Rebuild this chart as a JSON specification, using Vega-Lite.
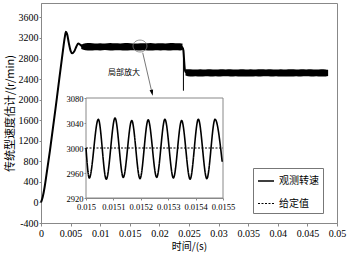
{
  "$schema": "https://vega.github.io/schema/vega-lite/v6.json",
  "width": 296,
  "height": 220,
  "autosize": "none",
  "padding": {"left": 41, "top": 3, "right": 14, "bottom": 32},
  "background": "white",
  "config": {
    "view": {"stroke": "#888888", "strokeWidth": 1},
    "axis": {
      "domainColor": "#888888",
      "tickColor": "#888888",
      "labelColor": "#000000",
      "labelFont": "Liberation Serif",
      "labelOverlap": false,
      "labelFlush": false,
      "labelBound": false,
      "titleFont": "Noto Sans CJK SC",
      "titleFontWeight": "normal",
      "titleColor": "#000000",
      "grid": false
    },
    "legend": {
      "orient": "none",
      "legendX": 212,
      "legendY": 165,
      "strokeColor": "#777777",
      "fillColor": "white",
      "padding": 4,
      "symbolType": "stroke",
      "symbolSize": 256,
      "symbolStrokeColor": "#000000",
      "labelFont": "Noto Sans CJK SC",
      "labelFontSize": 10,
      "labelColor": "#000000",
      "rowPadding": 9,
      "labelOffset": 4
    }
  },
  "datasets": {
    "band": [
      {"t": 0.0068, "v": 2985, "v2": 3070, "seg": "a"},
      {"t": 0.0075, "v": 2960, "v2": 3095, "seg": "a"},
      {"t": 0.0083, "v": 2955, "v2": 3100, "seg": "a"},
      {"t": 0.0091, "v": 2962, "v2": 3092, "seg": "a"},
      {"t": 0.0100, "v": 2958, "v2": 3098, "seg": "a"},
      {"t": 0.0108, "v": 2965, "v2": 3090, "seg": "a"},
      {"t": 0.0117, "v": 2955, "v2": 3102, "seg": "a"},
      {"t": 0.0125, "v": 2960, "v2": 3095, "seg": "a"},
      {"t": 0.0134, "v": 2962, "v2": 3093, "seg": "a"},
      {"t": 0.0142, "v": 2956, "v2": 3100, "seg": "a"},
      {"t": 0.0151, "v": 2960, "v2": 3096, "seg": "a"},
      {"t": 0.0159, "v": 2963, "v2": 3092, "seg": "a"},
      {"t": 0.0168, "v": 2957, "v2": 3099, "seg": "a"},
      {"t": 0.0176, "v": 2960, "v2": 3095, "seg": "a"},
      {"t": 0.0185, "v": 2955, "v2": 3100, "seg": "a"},
      {"t": 0.0193, "v": 2962, "v2": 3094, "seg": "a"},
      {"t": 0.0202, "v": 2958, "v2": 3097, "seg": "a"},
      {"t": 0.0210, "v": 2961, "v2": 3093, "seg": "a"},
      {"t": 0.0219, "v": 2956, "v2": 3100, "seg": "a"},
      {"t": 0.0227, "v": 2960, "v2": 3096, "seg": "a"},
      {"t": 0.0235, "v": 2958, "v2": 3098, "seg": "a"},
      {"t": 0.0239, "v": 2965, "v2": 3090, "seg": "a"},
      {"t": 0.0244, "v": 2470, "v2": 2590, "seg": "b"},
      {"t": 0.0252, "v": 2450, "v2": 2590, "seg": "b"},
      {"t": 0.0261, "v": 2455, "v2": 2585, "seg": "b"},
      {"t": 0.0269, "v": 2448, "v2": 2592, "seg": "b"},
      {"t": 0.0278, "v": 2454, "v2": 2586, "seg": "b"},
      {"t": 0.0286, "v": 2450, "v2": 2590, "seg": "b"},
      {"t": 0.0295, "v": 2456, "v2": 2584, "seg": "b"},
      {"t": 0.0303, "v": 2449, "v2": 2591, "seg": "b"},
      {"t": 0.0312, "v": 2453, "v2": 2588, "seg": "b"},
      {"t": 0.0320, "v": 2450, "v2": 2592, "seg": "b"},
      {"t": 0.0329, "v": 2455, "v2": 2585, "seg": "b"},
      {"t": 0.0337, "v": 2448, "v2": 2590, "seg": "b"},
      {"t": 0.0346, "v": 2452, "v2": 2587, "seg": "b"},
      {"t": 0.0354, "v": 2450, "v2": 2593, "seg": "b"},
      {"t": 0.0363, "v": 2456, "v2": 2586, "seg": "b"},
      {"t": 0.0371, "v": 2449, "v2": 2590, "seg": "b"},
      {"t": 0.0380, "v": 2453, "v2": 2588, "seg": "b"},
      {"t": 0.0388, "v": 2450, "v2": 2591, "seg": "b"},
      {"t": 0.0397, "v": 2455, "v2": 2585, "seg": "b"},
      {"t": 0.0405, "v": 2448, "v2": 2592, "seg": "b"},
      {"t": 0.0414, "v": 2452, "v2": 2587, "seg": "b"},
      {"t": 0.0422, "v": 2450, "v2": 2590, "seg": "b"},
      {"t": 0.0431, "v": 2456, "v2": 2586, "seg": "b"},
      {"t": 0.0439, "v": 2449, "v2": 2592, "seg": "b"},
      {"t": 0.0448, "v": 2453, "v2": 2588, "seg": "b"},
      {"t": 0.0456, "v": 2450, "v2": 2591, "seg": "b"},
      {"t": 0.0465, "v": 2455, "v2": 2585, "seg": "b"},
      {"t": 0.0473, "v": 2449, "v2": 2590, "seg": "b"},
      {"t": 0.0481, "v": 2452, "v2": 2588, "seg": "b"},
      {"t": 0.0485, "v": 2460, "v2": 2580, "seg": "b"}
    ],
    "main": [
      {"t": 0, "v": 0, "seg": "a"},
      {"t": 0.0003, "v": 110, "seg": "a"},
      {"t": 0.0006, "v": 290, "seg": "a"},
      {"t": 0.0009, "v": 520, "seg": "a"},
      {"t": 0.0015, "v": 1000, "seg": "a"},
      {"t": 0.0027, "v": 2050, "seg": "a"},
      {"t": 0.0037, "v": 2950, "seg": "a"},
      {"t": 0.0040, "v": 3200, "seg": "a"},
      {"t": 0.0042, "v": 3320, "seg": "a"},
      {"t": 0.0044, "v": 3280, "seg": "a"},
      {"t": 0.0047, "v": 3100, "seg": "a"},
      {"t": 0.0050, "v": 2950, "seg": "a"},
      {"t": 0.0053, "v": 2900, "seg": "a"},
      {"t": 0.0056, "v": 2935, "seg": "a"},
      {"t": 0.0060, "v": 3040, "seg": "a"},
      {"t": 0.0063, "v": 3090, "seg": "a"},
      {"t": 0.0066, "v": 3070, "seg": "a"},
      {"t": 0.0070, "v": 3030, "seg": "a"},
      {"t": 0.0238, "v": 3030, "seg": "b"},
      {"t": 0.02405, "v": 2960, "seg": "b"},
      {"t": 0.0242, "v": 2720, "seg": "b"},
      {"t": 0.0243, "v": 2580, "seg": "b"},
      {"t": 0.0245, "v": 2525, "seg": "b"}
    ],
    "inset": [
      {"t": 0.015000, "v": 3000, "series": "观测转速"},
      {"t": 0.015012, "v": 2952, "series": "观测转速"},
      {"t": 0.015045, "v": 3046, "series": "观测转速"},
      {"t": 0.015074, "v": 2950, "series": "观测转速"},
      {"t": 0.015106, "v": 3048, "series": "观测转速"},
      {"t": 0.015136, "v": 2953, "series": "观测转速"},
      {"t": 0.015167, "v": 3044, "series": "观测转速"},
      {"t": 0.015197, "v": 2951, "series": "观测转速"},
      {"t": 0.015227, "v": 3045, "series": "观测转速"},
      {"t": 0.015258, "v": 2953, "series": "观测转速"},
      {"t": 0.015288, "v": 3046, "series": "观测转速"},
      {"t": 0.015319, "v": 2952, "series": "观测转速"},
      {"t": 0.015349, "v": 3044, "series": "观测转速"},
      {"t": 0.015380, "v": 2950, "series": "观测转速"},
      {"t": 0.015410, "v": 3046, "series": "观测转速"},
      {"t": 0.015441, "v": 2951, "series": "观测转速"},
      {"t": 0.015471, "v": 3046, "series": "观测转速"},
      {"t": 0.015497, "v": 2978, "series": "观测转速"},
      {"t": 0.015000, "v": 3000, "series": "给定值"},
      {"t": 0.015500, "v": 3000, "series": "给定值"}
    ]
  },
  "layer": [
    {
      "encoding": {
        "x": {
          "field": "t", "type": "quantitative", "title": "时间/(s)",
          "scale": {"domain": [0, 0.05], "nice": false, "zero": false},
          "axis": {
            "orient": "bottom",
            "values": [0, 0.005, 0.01, 0.015, 0.02, 0.025, 0.03, 0.035, 0.04, 0.045, 0.05],
            "format": ".3~f",
            "labelFont": "Liberation Serif",
            "labelFontSize": 10,
            "labelOverlap": false,
            "tickSize": 3,
            "labelPadding": 2,
            "titleFontSize": 10,
            "titlePadding": 3
          }
        },
        "y": {
          "field": "v", "type": "quantitative", "title": "传统型速度估计/(r/min)",
          "scale": {"domain": [-400, 3880], "nice": false, "zero": false},
          "axis": {
            "orient": "left",
            "values": [-400, 0, 400, 800, 1200, 1600, 2000, 2400, 2800, 3200, 3600],
            "labelExpr": "toString(datum.value)",
            "labelFont": "Liberation Serif",
            "labelFontSize": 10,
            "labelOverlap": false,
            "tickSize": 2,
            "labelPadding": 1,
            "titleFontSize": 11,
            "titlePadding": 3
          }
        }
      },
      "layer": [
        {
          "data": {"name": "band"},
          "mark": {"type": "area", "color": "#000000", "interpolate": "monotone"},
          "encoding": {
            "y2": {"field": "v2"},
            "detail": {"field": "seg"}
          }
        },
        {
          "data": {"name": "main"},
          "mark": {"type": "line", "color": "#000000", "strokeWidth": 2, "interpolate": "monotone"},
          "encoding": {
            "detail": {"field": "seg"}
          }
        },
        {
          "data": {"values": [{"t": 0.02406, "v": 2174, "v2": 3000}]},
          "mark": {"type": "rule", "color": "#000000", "strokeWidth": 1},
          "encoding": {
            "y2": {"field": "v2"}
          }
        },
        {
          "data": {"values": [{"t": 0.01672, "v": 3043}]},
          "mark": {"type": "point", "shape": "M-1,0A1,0.85 0 1,0 1,0A1,0.85 0 1,0 -1,0Z", "size": 196, "filled": false, "stroke": "#777777", "strokeWidth": 0.8, "opacity": 1}
        },
        {
          "data": {"values": [{"t": 0.01718, "v": 2913, "t2": 0.01875, "v2": 2133}]},
          "mark": {"type": "rule", "color": "#555555", "strokeWidth": 0.8},
          "encoding": {
            "x2": {"field": "t2"},
            "y2": {"field": "v2"}
          }
        },
        {
          "data": {"values": [{"t": 0.01875, "v": 2133}]},
          "mark": {"type": "point", "shape": "M0,1L-0.6,-1L0.6,-1Z", "size": 36, "filled": true, "color": "#000000", "opacity": 1, "angle": 347}
        },
        {
          "data": {"values": [{"t": 0.01402, "v": 2518, "label": "局部放大"}]},
          "mark": {"type": "text", "font": "Noto Sans CJK SC", "fontSize": 8, "color": "#000000"},
          "encoding": {
            "text": {"field": "label"}
          }
        }
      ]
    },
    {
      "encoding": {
        "x": {
          "field": "t", "type": "quantitative", "title": null,
          "scale": {"domain": [0.015, 0.0155], "range": [45, 182], "nice": false, "zero": false},
          "axis": {
            "orient": "bottom",
            "offset": -25,
            "values": [0.015, 0.0151, 0.0152, 0.0153, 0.0154, 0.0155],
            "format": ".4~f",
            "labelFont": "Liberation Serif",
            "labelFontSize": 8.5,
            "labelOverlap": false,
            "tickSize": 2,
            "labelPadding": 2
          }
        },
        "y": {
          "field": "v", "type": "quantitative", "title": null,
          "scale": {"domain": [2920, 3080], "range": [195, 95], "nice": false, "zero": false},
          "axis": {
            "orient": "left",
            "offset": -45,
            "values": [2920, 2960, 3000, 3040, 3080],
            "format": "d",
            "labelFont": "Liberation Serif",
            "labelFontSize": 8.5,
            "labelOverlap": false,
            "tickSize": 2,
            "labelPadding": 1
          }
        }
      },
      "layer": [
        {
          "data": {"values": [{"t": 0.015, "t2": 0.0155, "v": 2920, "v2": 3080}]},
          "mark": {"type": "rect", "fill": "white", "stroke": "#888888", "strokeWidth": 1},
          "encoding": {
            "x2": {"field": "t2"},
            "y2": {"field": "v2"}
          }
        },
        {
          "data": {"name": "inset"},
          "mark": {"type": "line", "color": "#000000", "interpolate": "monotone"},
          "encoding": {
            "strokeDash": {
              "field": "series", "type": "nominal",
              "scale": {"domain": ["观测转速", "给定值"], "range": [[1, 0], [2, 1.5]]},
              "legend": {"title": null}
            },
            "strokeWidth": {
              "field": "series", "type": "nominal",
              "scale": {"domain": ["观测转速", "给定值"], "range": [1.6, 1]},
              "legend": {"title": null}
            }
          }
        }
      ]
    }
  ],
  "resolve": {
    "scale": {"x": "independent", "y": "independent"},
    "axis": {"x": "independent", "y": "independent"}
  }
}
